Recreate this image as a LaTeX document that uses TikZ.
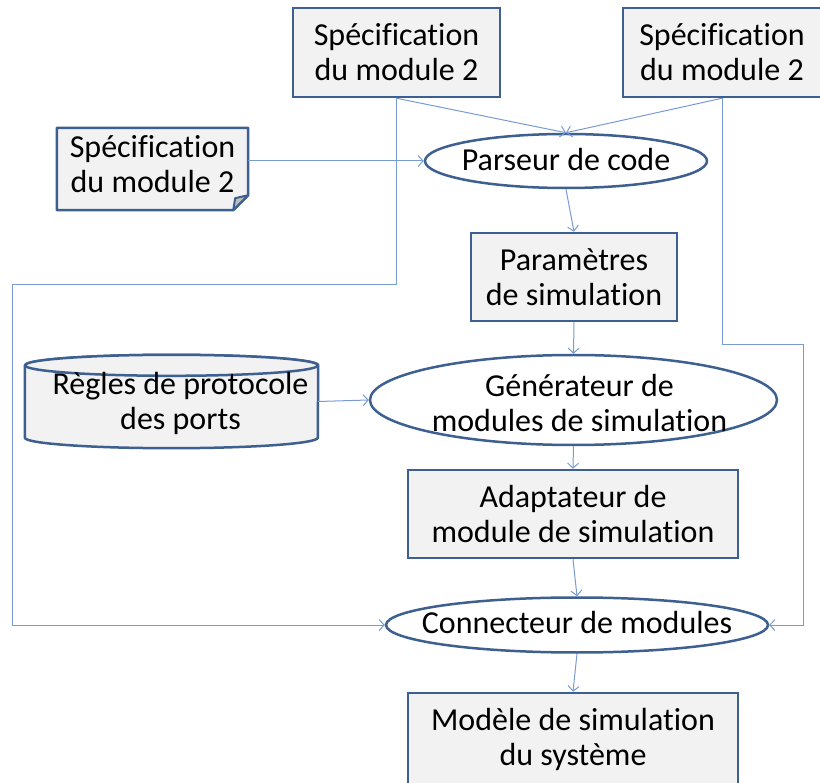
\documentclass[tikz,border=0pt]{standalone}
\usepackage{fontspec}
\setmainfont{Carlito}[Ligatures=CommonOff]
\usetikzlibrary{shapes.geometric,arrows.meta,backgrounds}
\definecolor{bordure}{RGB}{61,96,145}
\definecolor{remplis}{RGB}{242,242,242}
\definecolor{pli}{RGB}{190,190,190}
\definecolor{lienbleu}{RGB}{120,155,210}
\tikzset{
  texte/.style={align=center, inner sep=0pt},
  boite/.style={texte, draw=bordure, line width=2.5pt, fill=remplis},
  ovale/.style={ellipse, draw=bordure, line width=2.5pt, fill=white, inner sep=0pt},
  contour/.style={draw=bordure, line width=2.5pt, fill=remplis, line join=round},
  lien/.style={draw=lienbleu, line width=1pt, -{Straight Barb[length=5pt,width=11pt]}}
}
\begin{document}
\begin{tikzpicture}[x=1pt,y=-1pt,font=\fontsize{32}{35}\selectfont]
\useasboundingbox (0,0) rectangle (820,783);
% entrees
\node[boite, minimum width=207pt, minimum height=89pt] (specA) at (396.5,52.5) {Spécification\\du module 2};
\node[boite, minimum width=198pt, minimum height=89pt] (specB) at (722,52.5) {Spécification\\du module 2};
\node[texte, minimum width=191pt, minimum height=82pt,
      label={[texte, yshift=5pt]center:Spécification\\du module 2}] (specC) at (152.5,169) {};
\node[texte, minimum width=293pt, minimum height=93pt,
      label={[texte, xshift=9pt, yshift=-2pt]center:Règles de protocole\\des ports}] (regles) at (171.5,401.5) {};
\begin{scope}[on background layer]
  % document plie
  \draw[contour] (specC.north west) -- (specC.north east) -- ([yshift=15pt]specC.south east)
    -- ([xshift=-15pt]specC.south east) -- (specC.south west) -- cycle;
  \draw[contour, line width=2pt, fill=pli]
    ([yshift=15pt]specC.south east) -- ([xshift=-13pt,yshift=12pt]specC.south east)
    -- ([xshift=-15pt]specC.south east) -- cycle;
  % cylindre
  \draw[contour] ([yshift=-10.5pt]regles.north west) -- ([yshift=10.5pt]regles.south west)
    arc[start angle=180, end angle=360, x radius=146.5pt, y radius=10.5pt]
    -- ([yshift=-10.5pt]regles.north east)
    arc[start angle=0, end angle=180, x radius=146.5pt, y radius=10.5pt] -- cycle;
  \draw[contour] ([yshift=-10.5pt]regles.north) ellipse[x radius=146.5pt, y radius=10.5pt];
\end{scope}
% chaine
\node[ovale, minimum width=282pt, minimum height=54pt, label={[texte, yshift=1pt]center:Parseur de code}] (parseur) at (566,161) {};
\node[boite, minimum width=206pt, minimum height=88pt] (param) at (574,277) {Paramètres\\de simulation};
\node[ovale, minimum width=407pt, minimum height=90pt, label={[texte, xshift=6pt, yshift=-3pt]center:Générateur de\\modules de simulation}] (gen) at (573.5,400) {};
\node[boite, minimum width=330pt, minimum height=88pt] (adapt) at (573,514) {Adaptateur de\\module de simulation};
\node[ovale, minimum width=382pt, minimum height=55pt, label={[texte, yshift=2pt]center:Connecteur de modules}] (conn) at (577,625) {};
\node[boite, minimum width=330pt, minimum height=92pt] (modele) at (573,739) {Modèle de simulation\\du système};
% liens
\coordinate (coudeA) at (12,285);
\coordinate (coudeB) at (803,345);
\draw[lien] (specA.south) -- (parseur.north);
\draw[lien] (specB.south) -- (parseur.north);
\draw[lien] (specC.east |- parseur.west) -- (parseur.west);
\draw[lien] (parseur.south) -- (param.north);
\draw[lien] (param.south) -- (gen.north);
\draw[lien] (regles.east) -- (gen.west);
\draw[lien] (gen.south) -- (adapt.north);
\draw[lien] (adapt.south) -- (conn.north);
\draw[lien] (conn.south) -- (modele.north);
\draw[lien] (specA.south) |- (coudeA) |- (conn.west);
\draw[lien] (specB.south) |- (coudeB) |- (conn.east);
\end{tikzpicture}
\end{document}
